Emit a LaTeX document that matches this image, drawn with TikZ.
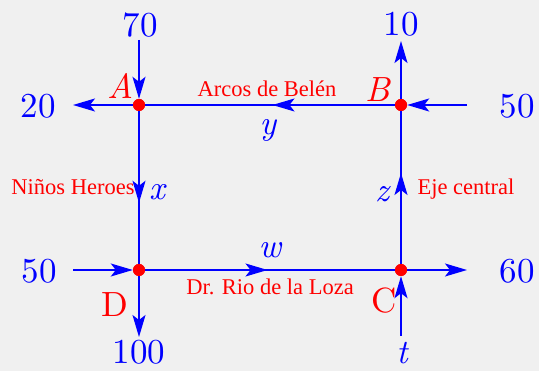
\documentclass[tikz,border=0pt]{standalone}
\usepackage{fontspec}
\newfontfamily\tms{Liberation Serif}
\newfontfamily\lmten{lmroman10-regular}[Extension=.otf, ItalicFont=lmroman10-italic]
\usetikzlibrary{arrows.meta,decorations.markings}
\definecolor{bgc}{HTML}{F0F0F0}
\tikzset{
  road/.style={draw=blue, line width=1.5pt},
  tip/.style={-{Stealth[length=22pt,width=13pt,inset=5pt]}},
  dot/.style={circle, fill=red, inner sep=0pt, minimum size=12pt},
  big/.style={text=blue, font=\lmten\fontsize{35}{40}\selectfont, anchor=base, inner sep=0pt},
  lab/.style={text=red, font=\lmten\fontsize{35}{40}\selectfont, anchor=base, inner sep=0pt},
  ilab/.style={text=red, font=\lmten\fontsize{35}{40}\selectfont\itshape, anchor=base, inner sep=0pt},
  var/.style={text=blue, font=\lmten\fontsize{34}{40}\selectfont\itshape, anchor=base, inner sep=0pt},
  street/.style={text=red, font=\tms\fontsize{22.5}{26}\selectfont, anchor=base, inner sep=0pt},
  midtip/.style={postaction={decorate}, decoration={markings,
     mark=at position #1 with {\arrow{Stealth[length=22pt,width=13pt,inset=5pt]}}}}
}
\begin{document}
\begin{tikzpicture}[x=1pt,y=-1pt]
\fill[bgc] (0,0) rectangle (539,371);
\useasboundingbox (0,0) rectangle (539,371);
% intersections
\node[dot] (A) at (139,105) {};
\node[dot] (B) at (401,105) {};
\node[dot] (D) at (139,270) {};
\node[dot] (C) at (401,270) {};
% free ends
\coordinate (e70) at (139,40);
\coordinate (e10) at (401,41);
\coordinate (e20) at (73,105);
\coordinate (e50r) at (467,105);
\coordinate (e50l) at (73,270);
\coordinate (e60) at (467,270);
\coordinate (e100) at (139,337);
\coordinate (et) at (401,336);
% connectors
\draw[road,tip] (e70) -- (A);
\draw[road,tip] (A) -- (e20);
\draw[road,tip] (e50r) -- (B);
\draw[road,tip] (B) -- (e10);
\draw[road,midtip=0.49] (B) -- (A);
\draw[road,midtip=0.60] (A) -- (D);
\draw[road,midtip=0.595] (C) -- (B);
\draw[road,midtip=0.49] (D) -- (C);
\draw[road,tip] (e50l) -- (D);
\draw[road,tip] (D) -- (e100);
\draw[road,tip] (C) -- (e60);
\draw[road,tip] (et) -- (C);
% redraw dots on top
\fill[red] (A) circle (6pt) (B) circle (6pt) (C) circle (6pt) (D) circle (6pt);
% numbers
\node[big] (t70) at (140,37) {70};
\node[big] (t10) at (401,36) {10};
\node[big] (t20) at (38,118) {20};
\node[big] (t50r) at (517,118) {50};
\node[big] (t50l) at (39,283) {50};
\node[big] (t60) at (517,283) {60};
\node[big] (t100) at (139,364) {100};
\node[var] (tt) at (402,364) {t};
% point labels
\node[ilab] (lA) at (121,99) {A};
\node[ilab] (lB) at (378,102) {B};
\node[lab] (lD) at (115,317) {D};
\node[lab] (lC) at (384,313) {C};
% variables
\node[var] (vx) at (157,200) {x};
\node[var] (vy) at (268,135) {y};
\node[var] (vz) at (382,202) {z};
\node[var] (vw) at (270,258) {w};
% streets
\node[street] (s1) at (267,97) {Arcos de Belén};
\node[street] (s2) at (73,195) {Niños Heroes};
\node[street] (s3) at (466,195) {Eje central};
\node[street] (s4) at (270,295) {Dr. Rio de la Loza};
\end{tikzpicture}
\end{document}
